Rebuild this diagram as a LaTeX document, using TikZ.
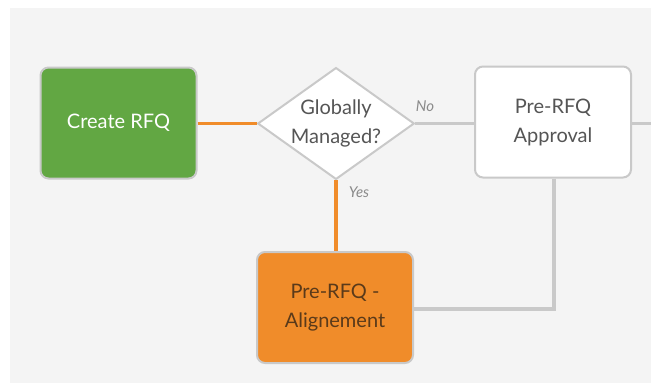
\documentclass[tikz,border=0pt]{standalone}
\usepackage{fontspec}
\setmainfont{Lato}
\usetikzlibrary{shapes.geometric}
\definecolor{bggray}{HTML}{F4F4F4}
\definecolor{boxgreen}{HTML}{62A743}
\definecolor{boxorange}{HTML}{F08C2A}
\definecolor{edgegray}{HTML}{C9C9C9}
\definecolor{txtgray}{HTML}{555555}
\definecolor{txtbrown}{HTML}{5A3A1A}
\definecolor{lblgray}{HTML}{8A8A8A}
\tikzset{
  x=1pt, y=-1pt,
  boxstyle/.style={rectangle, rounded corners=8pt, draw=edgegray, line width=2pt,
    minimum width=156pt, minimum height=111pt, inner sep=0pt, align=center,
    font=\fontsize{20}{29}\selectfont},
  decstyle/.style={diamond, draw=edgegray, line width=2pt, fill=white,
    minimum width=156pt, minimum height=111pt, inner sep=0pt, aspect=1.4, align=center,
    text=txtgray, font=\fontsize{20}{29}\selectfont},
  orangeline/.style={draw=boxorange, line width=3.5pt},
  grayline/.style={draw=edgegray, line width=3.5pt},
  lbl/.style={text=lblgray, font=\fontsize{15}{18}\selectfont\itshape, inner sep=0pt}
}
\begin{document}
\begin{tikzpicture}
\useasboundingbox (0,0) rectangle (651,383);
\fill[bggray] (10,8) rectangle (651,383);
\node[boxstyle, fill=boxgreen, text=white] (create) at (118.5,123) {Create RFQ};
\node[decstyle] (dec) at (336,123.5) {Globally\\Managed?};
\node[boxstyle, fill=white, text=txtgray] (appr) at (553,122) {Pre-RFQ\\Approval};
\node[boxstyle, fill=boxorange, text=txtbrown] (align) at (335,307.5) {Pre-RFQ -\\Alignement};
\coordinate (edge) at (651,123.5);
\coordinate (corner) at (554,309);
\draw[orangeline] (create.east |- dec.west) -- (dec.west);
\draw[orangeline] (dec.south) -- (dec.south |- align.north);
\draw[grayline] (dec.east) -- (appr.west |- dec.east);
\draw[grayline] (appr.east |- edge) -- (edge);
\draw[grayline] (appr.south -| corner) -- (corner) -- (align.east |- corner);
\node[lbl] (no) at (425,106) {No};
\node[lbl] (yes) at (359,192) {Yes};
\end{tikzpicture}
\end{document}
